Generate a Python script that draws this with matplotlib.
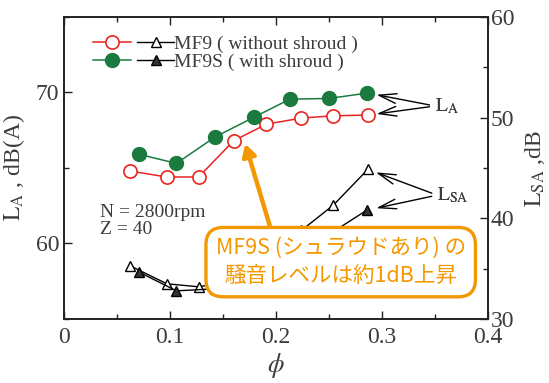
import matplotlib
matplotlib.use("Agg")
import matplotlib.pyplot as plt
from matplotlib.legend_handler import HandlerTuple
from matplotlib.ticker import MultipleLocator

plt.rcParams['font.family'] = ['Liberation Serif', 'DejaVu Serif']
plt.rcParams['mathtext.fontset'] = 'stix'

# データ
phi_mf9 = [0.062, 0.097, 0.127, 0.160, 0.191, 0.224, 0.254, 0.287]
la_mf9 = [64.8, 64.4, 64.4, 66.8, 67.9, 68.3, 68.45, 68.5]
lsa_mf9 = [35.3, 33.5, 33.2, 33.8, 36.0, 38.8, 41.3, 44.9]

phi_mf9s = [0.071, 0.106, 0.1425, 0.179, 0.213, 0.250, 0.2855]
la_mf9s = [65.9, 65.3, 67.05, 68.35, 69.55, 69.6, 69.95]
lsa_mf9s = [34.65, 32.8, 33.0, 34.5, 36.5, 38.4, 40.8]

RED = '#e8251f'
GREEN = '#1b7a3e'
ORANGE = '#f39800'
GREY = '#3c3c3c'

fig = plt.figure(figsize=(5.49, 3.83), dpi=100)
ax = fig.add_axes([0.1166, 0.167, 0.7724, 0.789])
ax2 = ax.twinx()

l1, = ax.plot(phi_mf9, la_mf9, '-o', color=RED, mfc='white', mec=RED,
              ms=9.5, lw=1.1, mew=1.2, zorder=3)
l2, = ax.plot(phi_mf9s, la_mf9s, '-o', color=GREEN, mfc=GREEN, mec=GREEN,
              ms=10, lw=1.1, zorder=3)
t1, = ax2.plot(phi_mf9, lsa_mf9, '-^', color='black', mfc='white', mec='black',
               ms=7, lw=1.0, mew=1.0)
t2, = ax2.plot(phi_mf9s, lsa_mf9s, '-^', color='black', mfc='#333333', mec='black',
               ms=7, lw=1.0)

ax.set_xlim(0, 0.4)
ax.set_ylim(55, 75)
ax2.set_ylim(30, 60)

ax.xaxis.set_major_locator(MultipleLocator(0.1))
ax.xaxis.set_minor_locator(MultipleLocator(0.05))
ax.yaxis.set_major_locator(MultipleLocator(10))
ax.yaxis.set_minor_locator(MultipleLocator(5))
ax2.yaxis.set_major_locator(MultipleLocator(10))
ax2.yaxis.set_minor_locator(MultipleLocator(5))
ax.set_xticks([0, 0.1, 0.2, 0.3, 0.4])
ax.set_xticklabels(['0', '0.1', '0.2', '0.3', '0.4'])

for a in (ax, ax2):
    a.tick_params(which='major', direction='in', length=6, width=1.0,
                  labelsize=17, labelcolor=GREY, color='#222222')
    a.tick_params(which='minor', direction='in', length=3.5, width=1.0, color='#222222')
    for s in a.spines.values():
        s.set_linewidth(1.2)
        s.set_color('#222222')
ax.tick_params(which='both', top=True, right=False)
ax.tick_params(axis='x', pad=6)
ax2.tick_params(axis='y', pad=2)

ax.set_xlabel(r'$\phi$', fontsize=19, color=GREY, labelpad=2)
ax.set_ylabel(r'$\mathrm{L}_\mathrm{A}$ , dB(A)', fontsize=17, color=GREY, labelpad=6)
ax2.set_ylabel(r'$\mathrm{L}_\mathrm{SA}$ ,dB', fontsize=17, color=GREY, labelpad=6)

ax.legend([(l1, t1), (l2, t2)],
          ['MF9 ( without shroud )', 'MF9S ( with shroud )'],
          handler_map={tuple: HandlerTuple(ndivide=None, pad=0.3)},
          loc='upper left', bbox_to_anchor=(0.045, 0.97), frameon=False,
          fontsize=14, handlelength=4.2, handletextpad=0.0,
          labelspacing=0.0, borderpad=0.0, labelcolor=GREY)

ax.text(0.034, 62.6, 'N = 2800rpm\nZ = 40', fontsize=14, color=GREY,
        va='top', ha='left', linespacing=1.0)

# L_A の矢印
for yv in (la_mf9s[-1], la_mf9[-1]):
    ax.annotate(r'$\mathrm{L}_\mathrm{A}$', xy=(phi_mf9[-1], yv),
                xytext=(0.350, 69.1), fontsize=14, color=GREY, va='center',
                arrowprops=dict(arrowstyle='->,head_length=0.9,head_width=0.25',
                                color='black', lw=1.0, shrinkB=6,
                                relpos=(0, 0.5)))
for yv in (lsa_mf9[-1], lsa_mf9s[-1]):
    ax2.annotate(r'$\mathrm{L}_\mathrm{SA}$', xy=(phi_mf9s[-1], yv),
                 xytext=(0.352, 42.3), fontsize=14, color=GREY, va='center',
                 arrowprops=dict(arrowstyle='->,head_length=0.9,head_width=0.25',
                                 color='black', lw=1.0, shrinkB=7,
                                 relpos=(0, 0.5)))

# 吹き出し
ax2.annotate('', xy=(0.171, 47.4), xytext=(0.194, 39.3),
             arrowprops=dict(arrowstyle='-|>,head_length=0.7,head_width=0.4',
                             color=ORANGE, lw=3.2, shrinkA=0, shrinkB=0),
             zorder=9)
ax2.text(0.261, 35.65, 'MF9S (シュラウドあり) の\n騒音レベルは約1dB上昇',
         family=['Noto Sans CJK JP', 'DejaVu Sans'], fontsize=15.5,
         color=ORANGE, ha='center', va='center', linespacing=1.35, zorder=10,
         bbox=dict(boxstyle='round,pad=0.45,rounding_size=0.8', fc='white',
                   ec=ORANGE, lw=2.4))

fig.savefig('out.png', dpi=100)
